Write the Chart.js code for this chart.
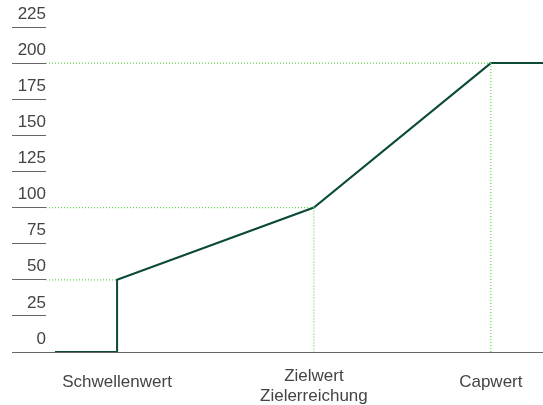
<!DOCTYPE html>
<html>
<head>
<meta charset="utf-8">
<script src="https://cdn.jsdelivr.net/npm/chart.js@4"></script>
<style>
  html, body { margin: 0; padding: 0; background: #fff; }
  #wrap { width: 543px; height: 405px; position: relative; }
</style>
</head>
<body>
<div id="wrap"><canvas id="c"></canvas></div>
<script>
// ---------- 데이터 ----------
// x 위치는 0..100 상대 단위 (축 왼쪽 끝 = 0, 오른쪽 끝 = 100)
const xStart = 1.8;
const xEnd = 100;
const markerX = [14.3, 53.9, 89.5];           // Schwellenwert, Zielwert, Capwert
const markerLabels = ['Schwellenwert', ['Zielwert', 'Zielerreichung'], 'Capwert'];
const markerY = [50, 100, 200];               // 각 지점의 값
const yTicks = [0, 25, 50, 75, 100, 125, 150, 175, 200, 225];

const LINE_COLOR = '#0b4a36';
const GUIDE_COLOR = '#5fd64b';
const AXIS_COLOR = '#666666';
const TEXT_COLOR = '#444444';
const FONT_FAMILY = 'Liberation Sans, Arial, sans-serif';

// 본선: 0 -> 계단 -> 꺾은선 -> 캡 이후 평행
const mainLine = [
  { x: xStart, y: 0 },
  { x: markerX[0], y: 0 },
  { x: markerX[0], y: markerY[0] },
  { x: markerX[1], y: markerY[1] },
  { x: markerX[2], y: markerY[2] },
  { x: xEnd, y: markerY[2] },
];

// 점선 가이드 (수평: 축 -> 지점, 수직: 지점 -> 0)
const guideSets = [];
markerX.forEach((mx, i) => {
  guideSets.push([{ x: 0, y: markerY[i] }, { x: mx, y: markerY[i] }]);
  if (i > 0) guideSets.push([{ x: mx, y: markerY[i] }, { x: mx, y: 0 }]);
});

const datasets = guideSets.map((d) => ({
  data: d,
  borderColor: GUIDE_COLOR,
  borderWidth: 1.2,
  borderDash: [1, 2],
  pointRadius: 0,
  fill: false,
}));
datasets.push({
  data: mainLine,
  borderColor: LINE_COLOR,
  borderWidth: 2,
  pointRadius: 0,
  tension: 0,
  fill: false,
});

new Chart(document.getElementById('c'), {
  type: 'line',
  data: { datasets },
  options: {
    animation: false,
    responsive: true,
    maintainAspectRatio: false,
    layout: { padding: { top: 27, right: 0, left: 12, bottom: 0 } },
    plugins: { legend: { display: false }, tooltip: { enabled: false } },
    scales: {
      x: {
        type: 'linear',
        min: 0,
        max: 100,
        afterBuildTicks: (s) => { s.ticks = markerX.map((v) => ({ value: v })); },
        afterFit: (s) => { s.height = 53; },
        ticks: {
          autoSkip: false,
          maxRotation: 0,
          padding: 14,
          color: TEXT_COLOR,
          // 한 줄 라벨은 두 줄 라벨의 첫/둘째 줄 사이쯤에 오도록 lineHeight를 키움
          font: (ctx) => ({
            family: FONT_FAMILY,
            size: 17,
            lineHeight: Array.isArray(markerLabels[ctx.index]) ? '20px' : '32px',
          }),
          callback: (v, i) => markerLabels[i],
        },
        grid: { display: false, drawTicks: false },
        border: { display: true, color: AXIS_COLOR, width: 1 },
      },
      y: {
        min: 0,
        max: 225,
        afterBuildTicks: (s) => { s.ticks = yTicks.map((v) => ({ value: v })); },
        afterFit: (s) => { s.width = 34; },
        ticks: {
          padding: -34,
          labelOffset: -13,
          color: TEXT_COLOR,
          font: { family: FONT_FAMILY, size: 17 },
        },
        grid: {
          drawOnChartArea: false,
          drawTicks: true,
          tickLength: 34,
          color: AXIS_COLOR,
          lineWidth: 1,
        },
        border: { display: false },
      },
    },
  },
});
</script>
</body>
</html>
